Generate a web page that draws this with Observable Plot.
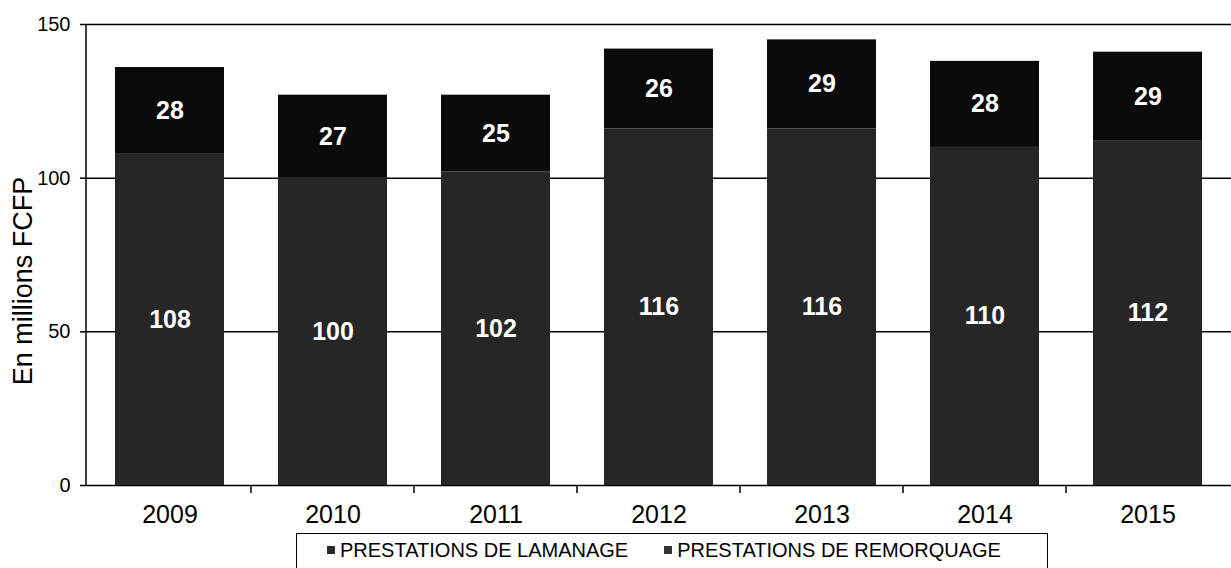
<!DOCTYPE html>
<html>
<head>
<meta charset="utf-8">
<script src="https://cdn.jsdelivr.net/npm/d3@7"></script>
<script src="https://cdn.jsdelivr.net/npm/@observablehq/plot@0.6"></script>
<style>
  body { margin: 0; background: #fff; font-family: "Liberation Sans", Arial, sans-serif; }
  #chart svg { display: block; }
  #legend {
    margin-left: 296px; margin-top: 3px; width: 752px; height: 40px;
    border: 1.5px solid #000; border-bottom: none; box-sizing: border-box;
    display: flex; align-items: flex-start; padding-top: 5px; padding-left: 30px;
    font-size: 20px; line-height: 22px; color: #000;
  }
  .item { display: flex; align-items: center; margin-right: 36px; white-space: nowrap; }
  .sw { width: 8px; height: 8px; margin-right: 5px; }
</style>
</head>
<body>
<div id="chart"></div>
<div id="legend"></div>
<script>
const years = ["2009", "2010", "2011", "2012", "2013", "2014", "2015"];
const lamanage = [108, 100, 102, 116, 116, 110, 112];
const remorquage = [28, 27, 25, 26, 29, 28, 29];
const seriesNames = ["PRESTATIONS DE LAMANAGE", "PRESTATIONS DE REMORQUAGE"];
const seriesColors = ["#262626", "#0a0a0a"];
const yTicks = [0, 50, 100, 150];
const yLabel = "En millions FCFP";

const data = years.flatMap((yr, i) => [
  {year: yr, series: seriesNames[0], value: lamanage[i]},
  {year: yr, series: seriesNames[1], value: remorquage[i]}
]);

const PAD_IN = 0.333;

function frameLines(index, scales, values, dimensions) {
  const x = scales.x, y = scales.y;
  const step = x(years[1]) - x(years[0]);
  const bw = typeof x.bandwidth === "function" ? x.bandwidth() : step * (1 - PAD_IN);
  const g = d3.create("svg:g").attr("stroke", "#000").attr("stroke-width", 1.5);
  const y0 = y(yTicks[0]);
  const yTop = y(yTicks[yTicks.length - 1]);
  g.append("line")
    .attr("x1", dimensions.marginLeft).attr("x2", dimensions.marginLeft)
    .attr("y1", yTop).attr("y2", y0);
  for (const d of years.slice(1)) {
    const bx = x(d) - (step - bw) / 2;
    g.append("line").attr("x1", bx).attr("x2", bx).attr("y1", y0).attr("y2", y0 + 8);
  }
  return g.node();
}

const chart = Plot.plot({
  width: 1231,
  height: 530,
  marginTop: 24,
  marginBottom: 45,
  marginLeft: 86,
  marginRight: 0,
  style: {fontFamily: '"Liberation Sans", Arial, sans-serif', color: "#000", background: "#fff", overflow: "visible"},
  x: {domain: years, paddingInner: PAD_IN, paddingOuter: PAD_IN / 2},
  y: {domain: [0, 150]},
  color: {domain: seriesNames, range: seriesColors},
  marks: [
    Plot.ruleY(yTicks, {stroke: "#000", strokeWidth: 1.5}),
    Plot.barY(data, {x: "year", y: "value", fill: "series"}),
    Plot.text(data, Plot.stackY({
      x: "year", y: "value", z: "series", text: d => String(d.value),
      fill: "#fff", fontWeight: "bold", fontSize: 25
    })),
    Plot.axisX({tickSize: 0, tickPadding: 20, fontSize: 25, label: null}),
    Plot.axisY({ticks: yTicks, tickSize: 6, tickPadding: 10, fontSize: 20, label: null, strokeWidth: 1.5}),
    Plot.text([yLabel], {
      text: d => d, frameAnchor: "left", rotate: -90, textAnchor: "middle",
      dx: -63, dy: 26, fontSize: 27, fill: "#000"
    }),
    frameLines
  ]
});
document.getElementById("chart").append(chart);

const legend = document.getElementById("legend");
seriesNames.forEach((name, i) => {
  const item = document.createElement("div");
  item.className = "item";
  const sw = document.createElement("span");
  sw.className = "sw";
  sw.style.background = seriesColors[i] === "#0a0a0a" ? "#333" : "#2a2a2a";
  const t = document.createElement("span");
  t.textContent = name;
  item.append(sw, t);
  legend.append(item);
});
</script>
</body>
</html>
